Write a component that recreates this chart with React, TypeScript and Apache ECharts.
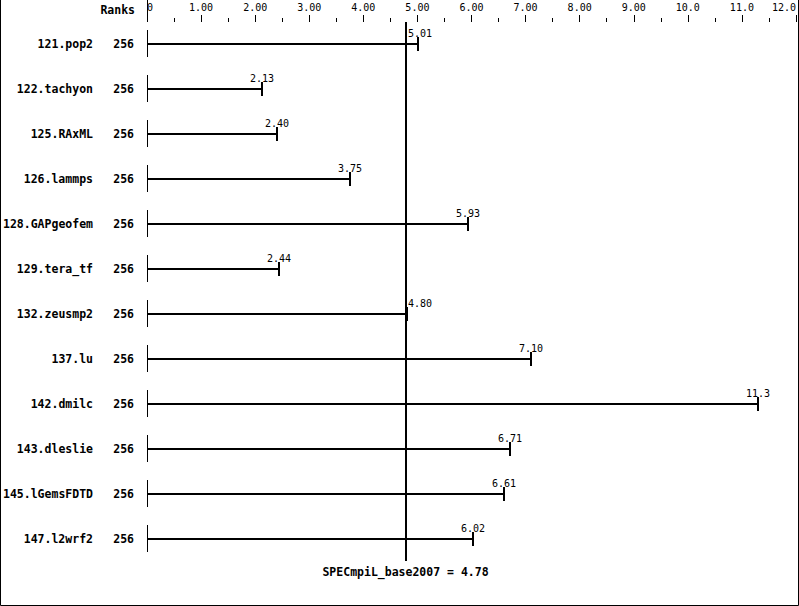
import React, { useEffect, useRef } from "react";
import * as echarts from "echarts";

const benchmarks = [
  "121.pop2", "122.tachyon", "125.RAxML", "126.lammps", "128.GAPgeofem", "129.tera_tf",
  "132.zeusmp2", "137.lu", "142.dmilc", "143.dleslie", "145.lGemsFDTD", "147.l2wrf2",
];
const ranks = ["256", "256", "256", "256", "256", "256", "256", "256", "256", "256", "256", "256"];
const ratios = [5.01, 2.13, 2.40, 3.75, 5.93, 2.44, 4.80, 7.10, 11.3, 6.71, 6.61, 6.02];
const geomean = 4.78;
const axisMin = 0;
const axisMax = 12;
const axisInterval = 1;

const fmt3 = (v: number) => (v === 0 ? "0" : v < 10 ? v.toFixed(2) : v.toFixed(1));

const MONO = "DejaVu Sans Mono";

export default function App() {
  const ref = useRef<HTMLDivElement>(null);
  useEffect(() => {
    const chart = echarts.init(ref.current!, null, { renderer: "svg" });
    chart.setOption({
      animation: false,
      backgroundColor: "#fff",
      grid: { left: 147, right: 3, top: 22, bottom: 45, containLabel: false },
      xAxis: {
        type: "value",
        position: "top",
        min: axisMin,
        max: axisMax,
        interval: axisInterval,
        axisLine: { show: false },
        axisTick: { show: true, length: 7, lineStyle: { color: "#000", width: 1 } },
        minorTick: { show: true, splitNumber: 2, length: 4, lineStyle: { color: "#000", width: 1 } },
        splitLine: { show: false },
        axisLabel: {
          color: "#000",
          fontFamily: MONO,
          fontSize: 10,
          margin: 10,
          formatter: (v: number) => fmt3(v),
          alignMinLabel: "left",
          alignMaxLabel: "right",
          showMinLabel: true,
          showMaxLabel: true,
        },
      },
      yAxis: [
        {
          type: "category",
          data: benchmarks,
          inverse: true,
          position: "left",
          axisLine: { show: false },
          axisTick: { show: false },
          axisLabel: { color: "#000", fontFamily: MONO, fontWeight: "bold", fontSize: 11.5, margin: 54 },
        },
        {
          type: "category",
          data: ranks,
          inverse: true,
          position: "left",
          axisLine: { show: false },
          axisTick: { show: false },
          axisLabel: { color: "#000", fontFamily: MONO, fontWeight: "bold", fontSize: 11.5, margin: 13 },
        },
      ],
      graphic: [
        {
          type: "polyline",
          shape: { points: [[0.5, 0], [0.5, 605.5], [798.5, 605.5], [798.5, 0]] },
          style: { stroke: "#000", lineWidth: 1, fill: "none" },
        },
        {
          type: "line",
          shape: { x1: 147.5, y1: 0, x2: 147.5, y2: 22 },
          style: { stroke: "#000", lineWidth: 1 },
        },
        {
          type: "text",
          x: 135,
          y: 10,
          style: {
            text: "Ranks",
            align: "right",
            verticalAlign: "middle",
            font: `bold 11.5px "${MONO}"`,
            fill: "#000",
          },
        },
      ],
      series: [
        {
          type: "custom",
          xAxisIndex: 0,
          yAxisIndex: 0,
          data: ratios.map((v, i) => [v, benchmarks[i]]),
          encode: { x: 0, y: 1 },
          renderItem: (params: any, api: any) => {
            const v = api.value(0);
            const c = api.value(1);
            const p0 = api.coord([0, c]);
            const p1 = api.coord([v, c]);
            const pg = api.coord([geomean, c]);
            const y = Math.round(p0[1]);
            const x0 = Math.round(p0[0]) + 0.5;
            const x1 = Math.round(p1[0]);
            const txt = fmt3(v);
            const halfW = (txt.length * 6) / 2;
            let lx = x1;
            let align = "center";
            if (pg[0] > x1 - halfW - 1 && pg[0] < x1 + halfW + 1) {
              lx = Math.round(pg[0]) + 2;
              align = "left";
            }
            return {
              type: "group",
              children: [
                { type: "line", shape: { x1: x0, y1: y - 14, x2: x0, y2: y + 13 }, style: { stroke: "#000", lineWidth: 1 } },
                { type: "line", shape: { x1: x0, y1: y, x2: x1, y2: y }, style: { stroke: "#000", lineWidth: 2 } },
                { type: "line", shape: { x1: x1, y1: y - 7, x2: x1, y2: y + 7 }, style: { stroke: "#000", lineWidth: 2 } },
                {
                  type: "text",
                  x: lx,
                  y: y - 11,
                  style: {
                    text: txt,
                    align,
                    verticalAlign: "middle",
                    font: `10px "${MONO}"`,
                    fill: "#000",
                  },
                },
              ],
            };
          },
          markLine: {
            silent: true,
            symbol: ["none", "none"],
            lineStyle: { color: "#000", width: 2, type: "solid" },
            label: {
              show: true,
              position: "end",
              formatter: () => `SPECmpiL_base2007 = ${geomean.toFixed(2)}`,
              color: "#000",
              fontFamily: MONO,
              fontWeight: "bold",
              fontSize: 11.5,
            },
            data: [{ xAxis: geomean }],
          },
        },
      ],
    });
    return () => chart.dispose();
  }, []);
  return (
    <div
      ref={ref}
      style={{ position: "fixed", left: 0, top: 0, width: 799, height: 606, background: "#fff" }}
    />
  );
}
